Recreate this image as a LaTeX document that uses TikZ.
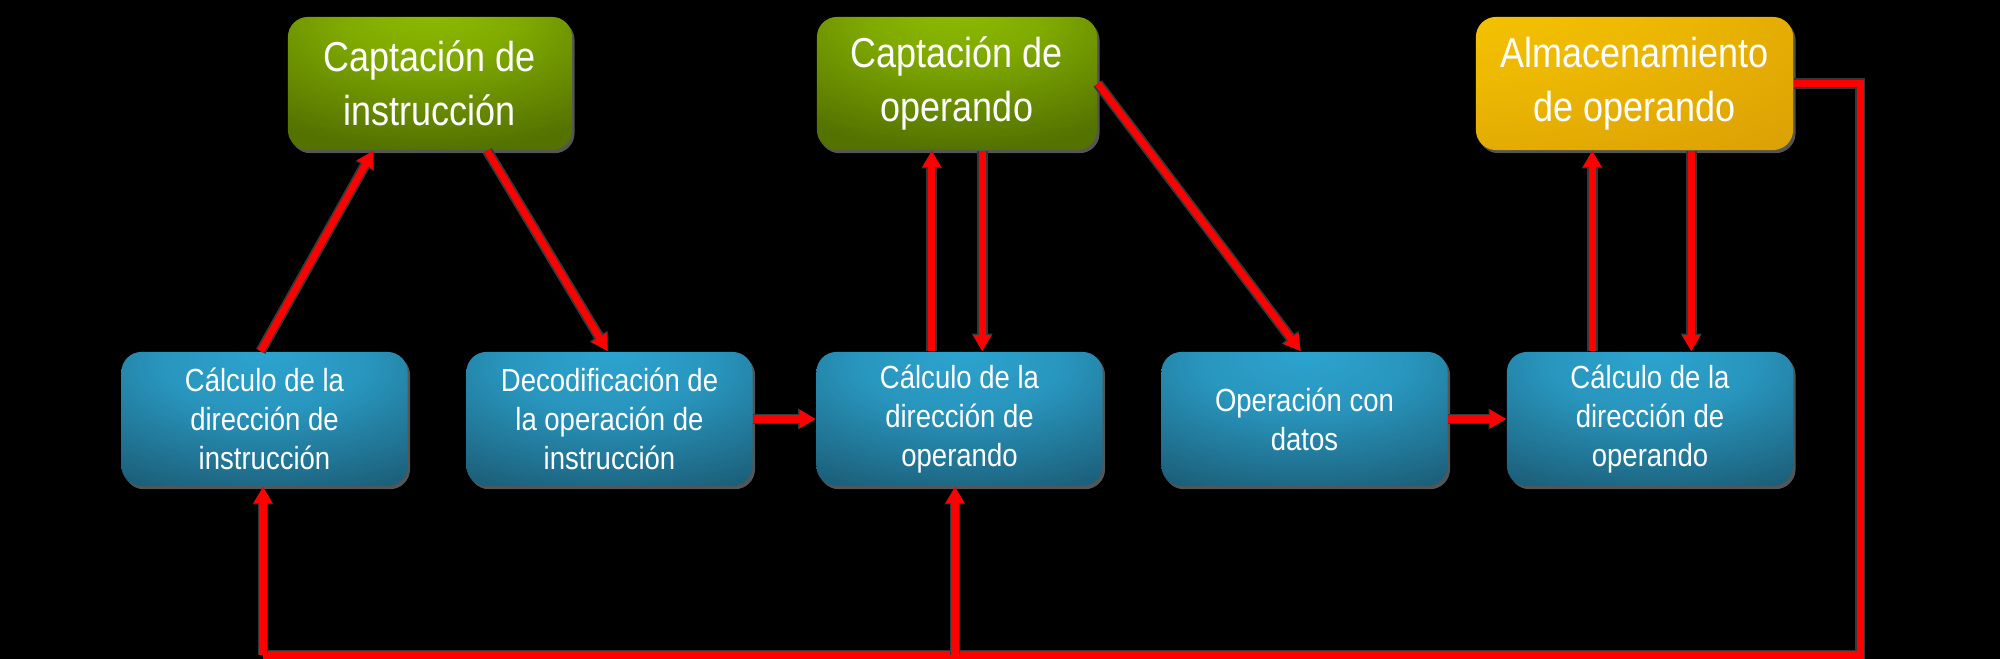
\documentclass[tikz,border=0pt]{standalone}
\usepackage{fontspec}
\newfontfamily\nf[FakeStretch=0.86]{Liberation Sans}
\usetikzlibrary{arrows.meta,calc,shadows}
\definecolor{gLight}{RGB}{142,188,0}
\definecolor{gDark}{RGB}{84,114,0}
\definecolor{bLight}{RGB}{44,164,208}
\definecolor{bDark}{RGB}{27,92,118}
\definecolor{oLight}{RGB}{252,206,0}
\definecolor{oDark}{RGB}{198,130,8}
\definecolor{shgray}{RGB}{85,85,85}
\definecolor{lngray}{RGB}{55,55,55}
\definecolor{lnred}{RGB}{255,0,0}
\pgfdeclareradialshading{gshade}{\pgfpoint{0bp}{30bp}}{color(0bp)=(gLight); color(16bp)=(gLight!75!gDark); color(42bp)=(gDark); color(100bp)=(gDark)}
\pgfdeclareradialshading{bshade}{\pgfpoint{0bp}{26bp}}{color(0bp)=(bLight); color(18bp)=(bLight!80!bDark); color(46bp)=(bDark); color(100bp)=(bDark)}
\pgfdeclareradialshading{oshade}{\pgfpoint{-45bp}{50bp}}{color(0bp)=(oLight); color(40bp)=(oLight!70!oDark); color(110bp)=(oDark); color(150bp)=(oDark)}
\tikzset{
  boxbase/.style={rectangle, rounded corners=0.2cm, inner sep=0pt, align=center, text=white,
    drop shadow={shadow xshift=0.7pt, shadow yshift=-0.9pt, fill=shgray, opacity=1}},
  topbox/.style={boxbase, minimum height=1.33cm, font=\nf\fontsize{11.9pt}{15.4pt}\selectfont},
  botbox/.style={boxbase, minimum width=2.86cm, minimum height=1.34cm, shading=bshade,
    font=\nf\fontsize{9.1pt}{11.1pt}\selectfont},
  greenbox/.style={topbox, shading=gshade},
  orangebox/.style={topbox, shading=oshade},
  redline/.style={draw=lnred, line width=2pt, line join=miter,
    preaction={draw=lngray, line width=3pt}},
  conn/.style={draw=lnred, line width=2pt, -{Triangle[length=4.6pt,width=4.9pt]},
    preaction={draw=lngray, line width=3pt, -{Triangle[length=5pt,width=5.6pt]}}}
}
\begin{document}
\begin{tikzpicture}[x=0.01cm, y=-0.01cm]
\fill[black] (0,0) rectangle (2000,659);
\useasboundingbox (0,0) rectangle (2000,659);

% top boxes
\node[greenbox, minimum width=2.84cm] (g1) at (430,83.5) {Captación de\\instrucción};
\node[greenbox, minimum width=2.80cm] (g2) at (957,83.5) {Captación de\\operando};
\node[orangebox, minimum width=3.17cm] (g3) at (1634.5,83.5) {Almacenamiento\\de operando};

% bottom boxes
\node[botbox] (b1) at (264.5,419) {Cálculo de la\\dirección de\\instrucción};
\node[botbox] (b2) at (609.5,419) {Decodificación de\\la operación de\\instrucción};
\node[botbox] (b3) at (959.5,419) {Cálculo de la\\dirección de\\operando};
\node[botbox] (b4) at (1304.5,419) {Operación con\\datos};
\node[botbox] (b5) at (1650,419) {Cálculo de la\\dirección de\\operando};

% connectors
\draw[conn] ($(b1.north west)+(140,0)$) -- ($(g1.south west)+(86,0)$);
\draw[conn] ($(g1.south west)+(200,0)$) -- ($(b2.north west)+(142,0)$);
\draw[conn] (b2.east) -- (b3.west);
\coordinate (u3) at ($(b3.north west)+(116,0)$);
\draw[conn] (u3) -- (u3 |- g2.south);
\coordinate (d3) at ($(g2.south west)+(166,0)$);
\draw[conn] (d3) -- (d3 |- b3.north);
\draw[conn] (g2.east) -- ($(b4.north west)+(140,0)$);
\draw[conn] (b4.east) -- (b5.west);
\coordinate (u5) at ($(b5.north west)+(86,0)$);
\draw[conn] (u5) -- (u5 |- g3.south);
\coordinate (d5) at ($(b5.north west)+(185,0)$);
\draw[conn] (d5 |- g3.south) -- (d5);

% feedback loop
\coordinate (c1) at (1860,83.5);
\coordinate (c2) at (1860,655);
\coordinate (c3) at (263,655);
\coordinate (c4) at (955,655);
\draw[redline] (g3.east) -- (c1) -- (c2) -- (c3);
\draw[conn] (c3) -- (c3 |- b1.south);
\draw[conn] (c4) -- (c4 |- b3.south);
\end{tikzpicture}
\end{document}
